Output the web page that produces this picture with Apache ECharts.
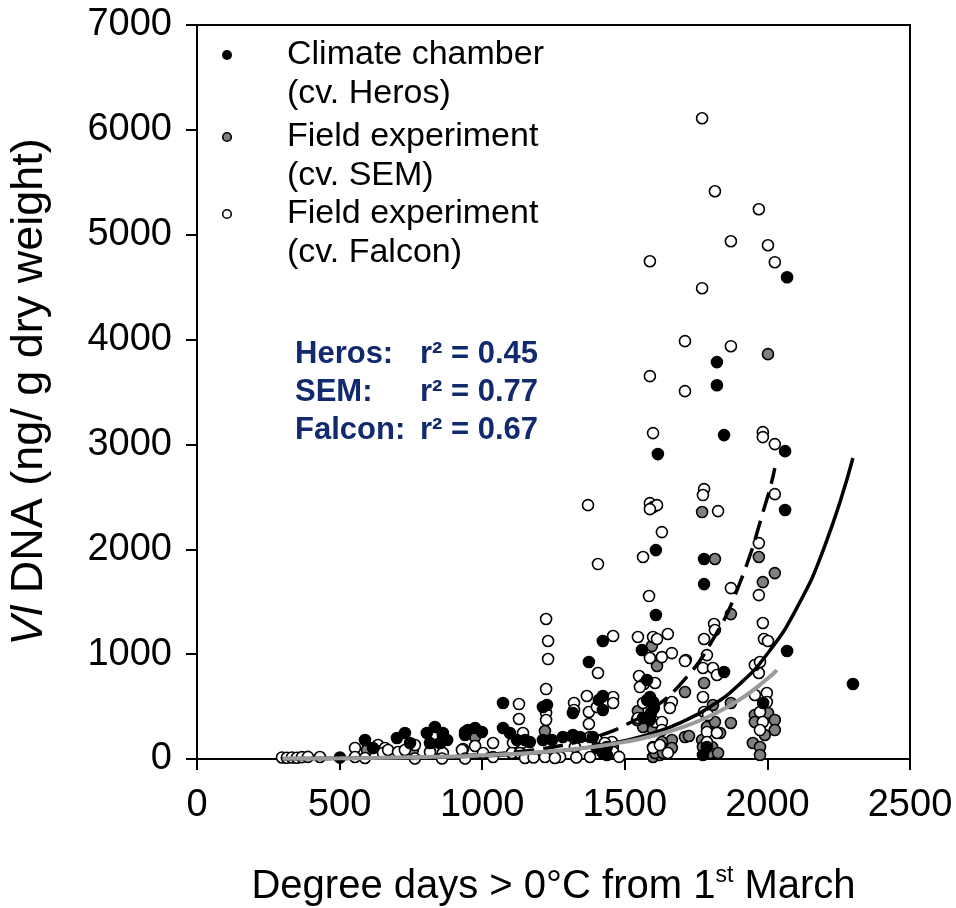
<!DOCTYPE html>
<html>
<head>
<meta charset="utf-8">
<script src="https://cdn.jsdelivr.net/npm/echarts@6/dist/echarts.min.js"></script>
<style>
html,body{margin:0;padding:0;background:#fff;}
#chart{width:956px;height:908px;}
</style>
</head>
<body>
<div id="chart"></div>
<script>
// ---- axis ticks ----
var xTicks = { min: 0, max: 2500, interval: 500 };
var yTicks = { min: 0, max: 7000, interval: 1000 };

// ---- series names ----
var herosName = 'Climate chamber\n(cv. Heros)';
var semName = 'Field experiment\n(cv. SEM)';
var falconName = 'Field experiment\n(cv. Falcon)';

// ---- Climate chamber (cv. Heros): [degree days, Vl DNA] ----
var herosData = [
 [2069,4595],[1823,3785],[1823,3565],[1848,3089],[2062,2936],[2062,2374],[1778,1907],[1778,1668],
 [2069,1030],[1848,829],[2300,715],[1616,2908],[1609,1992],[1609,1373],[1423,1125],[1374,925],
 [1560,1039],[1578,753],[1073,534],[1213,496],[1227,515],[1318,439],[1423,601],[1409,562],
 [1578,562],[1599,543],[1588,591],[1602,486],[1592,439],[1564,391],[1588,372],[1423,467],
 [1774,38],[1788,115],[1985,534],[1437,38],[501,15],[589,181],[617,105],[701,200],[729,248],
 [747,153],[834,305],[806,248],[862,248],[817,153],[852,153],[877,181],[940,257],[950,276],
 [975,296],[999,257],[940,229],[1073,296],[1097,248],[1122,181],[1150,181],[1167,162],[1283,210],
 [1245,181],[1213,181],[1343,210],[1388,210],[1318,229],[1423,57],[1437,114],[1402,105]
];

// ---- Field experiment (cv. SEM) ----
var semData = [
 [2002,3861],[1771,2355],[1970,1926],[1816,1907],[2026,1773],[1984,1687],[1872,1382],[1778,725],
 [1711,639],[1872,534],[1809,515],[1711,210],[1872,343],[1595,1077],[1613,887],[1546,458],
 [1564,305],[1599,315],[1725,219],[1665,181],[1599,19],[1623,38],[1543,372],[1599,276],[1630,162],
 [1599,114],[1606,57],[1634,57],[1665,105],[1771,181],[1788,305],[1816,353],[1834,248],[1806,114],
 [1774,114],[1799,57],[1827,57],[1956,419],[2002,438],[2026,372],[2026,276],[1956,353],[1991,229],
 [1949,153],[1974,114],[1974,38],[975,210],[862,229],[757,86],[596,86],[631,114],[1220,267],[1458,114]
];

// ---- Field experiment (cv. Falcon) ----
var falconData = [
 [1771,6111],[1816,5415],[1970,5243],[1872,4938],[2002,4900],[2026,4738],[1771,4490],[1711,3985],
 [1872,3937],[1711,3508],[1588,4747],[1588,3651],[1599,3108],[1984,3117],[1984,3070],[2026,3003],
 [2026,2526],[1778,2574],[1774,2517],[1827,2364],[1970,2059],[1970,1563],[1872,1630],[1984,1297],
 [1813,1287],[1816,1230],[1778,1144],[1988,1144],[2002,1125],[1788,991],[1714,944],[1774,868],
 [1809,868],[1823,801],[1970,820],[1956,896],[1974,925],[1774,591],[1956,610],[1998,629],[1778,448],
 [1792,419],[1788,257],[1823,248],[1788,162],[1974,448],[1984,353],[1974,276],[1998,543],
 [1371,2421],[1588,2440],[1599,2402],[1613,2421],[1588,2383],[1630,2164],[1564,1926],[1406,1859],
 [1585,1554],[1224,1335],[1231,1125],[1231,953],[1459,1173],[1406,820],[1546,1163],[1599,1163],
 [1613,1144],[1651,1192],[1588,963],[1630,972],[1665,1010],[1711,934],[1550,791],[1567,715],
 [1553,686],[1606,725],[1224,667],[1129,524],[1129,381],[1224,439],[1224,372],[1322,534],[1322,467],
 [1367,601],[1374,448],[1374,334],[1459,591],[1459,534],[1402,496],[1564,534],[1546,391],[1606,353],
 [1630,353],[1658,515],[1665,543],[1658,486],[1630,276],[1599,105],[1623,133],[1651,57],
 [975,124],[933,95],[1038,153],[1003,57],[1143,248],[1108,153],[1139,153],[1104,57],[1132,57],
 [1318,210],[1325,114],[1378,210],[1402,181],[1455,162],[1459,67],[1273,19],[1220,19],[1378,19],
 [1430,153],[298,15],[315,12],[333,15],[350,12],[368,18],[389,20],[431,19],[554,105],[554,19],
 [589,10],[635,133],[659,105],[652,57],[670,86],[705,67],[729,86],[764,133],[764,5],[852,86],
 [817,67],[862,57],[859,5],[929,86],[940,5],[862,181],[1038,19],[1150,10],[1180,15],[1255,10],
 [1330,15],[1480,20]
];

// ---- fitted curves ----
var herosFit = [[300,3],[400,4],[500,5],[600,8],[700,11],[800,15],[900,21],[1000,30],[1100,43],
 [1200,61],[1300,87],[1400,123],[1500,175],[1600,248],[1700,352],[1800,499],[1900,708],[2000,1004],
 [2100,1425],[2200,2023],[2300,2870]];
var semFit = [[300,2],[400,4],[500,5],[600,8],[700,12],[800,18],[900,27],[1000,41],[1100,62],
 [1200,94],[1300,141],[1400,213],[1500,321],[1600,484],[1700,729],[1800,1098],[1900,1655],
 [2000,2494],[2026,2774]];
var falconFit = [[300,4],[400,5],[500,7],[600,10],[700,14],[800,19],[900,25],[1000,35],[1100,47],
 [1200,64],[1300,87],[1400,119],[1500,163],[1600,222],[1700,302],[1800,412],[1900,561],
 [2000,765],[2033,848]];

// ---- annotation text ----
var fitLabels = ['Heros:', 'SEM:', 'Falcon:'];
var fitR2 = ['r\u00B2 = 0.45', 'r\u00B2 = 0.77', 'r\u00B2 = 0.67'];

var FONT = '"Liberation Sans", Arial, sans-serif';
var chart = echarts.init(document.getElementById('chart'));

function scatter(name, data, fill, z) {
  return {
    name: name, type: 'scatter', data: data, symbol: 'circle', symbolSize: 11, z: z,
    itemStyle: { color: fill, borderColor: '#000', borderWidth: 1.6, opacity: 1 },
    emphasis: { disabled: true }, animation: false
  };
}
function fitLine(data, color, width, type) {
  return {
    type: 'line', data: data, smooth: true, symbol: 'none', z: 10, silent: true,
    lineStyle: { color: color, width: width, type: type }, animation: false
  };
}

var graphics = [];
// legend (drawn as graphic so the marker sits on the first text line)
var legendNames = [herosName, semName, falconName];
var legendFills = ['#000', '#808080', '#fff'];
var legendY = [55, 137, 214];
for (var k = 0; k < legendNames.length; k++) {
  graphics.push({ type: 'circle', z: 100, shape: { cx: 227, cy: legendY[k], r: k === 0 ? 5 : 4.3 },
    style: { fill: legendFills[k], stroke: '#000', lineWidth: k === 0 ? 0 : 1.6 } });
  graphics.push({ type: 'text', z: 100, left: 287, top: legendY[k] - 19.5,
    style: { text: legendNames[k], font: '34px ' + FONT, fill: '#000', lineHeight: 39 } });
}
var r2Y = [355, 393, 431];
for (var i = 0; i < fitLabels.length; i++) {
  graphics.push({ type: 'text', left: 295, top: r2Y[i] - 16, z: 100,
    style: { text: fitLabels[i], font: 'bold 31px ' + FONT, fill: '#112a6e' } });
  graphics.push({ type: 'text', left: 420, top: r2Y[i] - 16, z: 100,
    style: { text: fitR2[i], font: 'bold 31px ' + FONT, fill: '#112a6e' } });
}

chart.setOption({
  backgroundColor: '#fff',
  animation: false,
  grid: { left: 197, right: 46, top: 25, bottom: 149, containLabel: false, outerBoundsMode: 'none',
    show: true, borderColor: '#000', borderWidth: 2, backgroundColor: 'transparent' },
  xAxis: {
    type: 'value', min: xTicks.min, max: xTicks.max, interval: xTicks.interval,
    splitLine: { show: false },
    axisLine: { show: true, onZero: false, lineStyle: { color: '#000', width: 2 } },
    axisTick: { show: true, inside: false, length: 11, lineStyle: { color: '#000', width: 2 } },
    axisLabel: { fontFamily: FONT, fontSize: 38, color: '#000', margin: 28, formatter: function (v) { return String(v); } },
    name: 'Degree days > 0\u00B0C from 1{sup|st} March',
    nameLocation: 'middle', nameGap: 105,
    nameTextStyle: { fontFamily: FONT, fontSize: 40, color: '#000', lineHeight: 46,
      rich: { sup: { fontFamily: FONT, fontSize: 23, color: '#000', verticalAlign: 'top', lineHeight: 46, padding: [0, 0, 16, 0] } } }
  },
  yAxis: {
    type: 'value', min: yTicks.min, max: yTicks.max, interval: yTicks.interval,
    splitLine: { show: false },
    axisLine: { show: true, onZero: false, lineStyle: { color: '#000', width: 2 } },
    axisTick: { show: true, inside: false, length: 11, lineStyle: { color: '#000', width: 2 } },
    axisLabel: { fontFamily: FONT, fontSize: 38, color: '#000', margin: 25, formatter: function (v) { return String(v); } },
    name: '{i|Vl} DNA (ng/ g dry weight)',
    nameLocation: 'middle', nameGap: 145,
    nameTextStyle: { fontFamily: FONT, fontSize: 45, color: '#000',
      rich: { i: { fontFamily: FONT, fontSize: 45, fontStyle: 'italic', color: '#000' } } }
  },
  graphic: graphics,
  series: [
    scatter(semName, semData, '#808080', 2),
    scatter(falconName, falconData, '#fff', 3),
    scatter(herosName, herosData, '#000', 4),
    fitLine(herosFit, '#000', 3.5, 'solid'),
    fitLine(semFit, '#000', 3.5, [20, 9]),
    fitLine(falconFit, '#9a9a9a', 4, 'solid')
  ]
});
</script>
</body>
</html>
